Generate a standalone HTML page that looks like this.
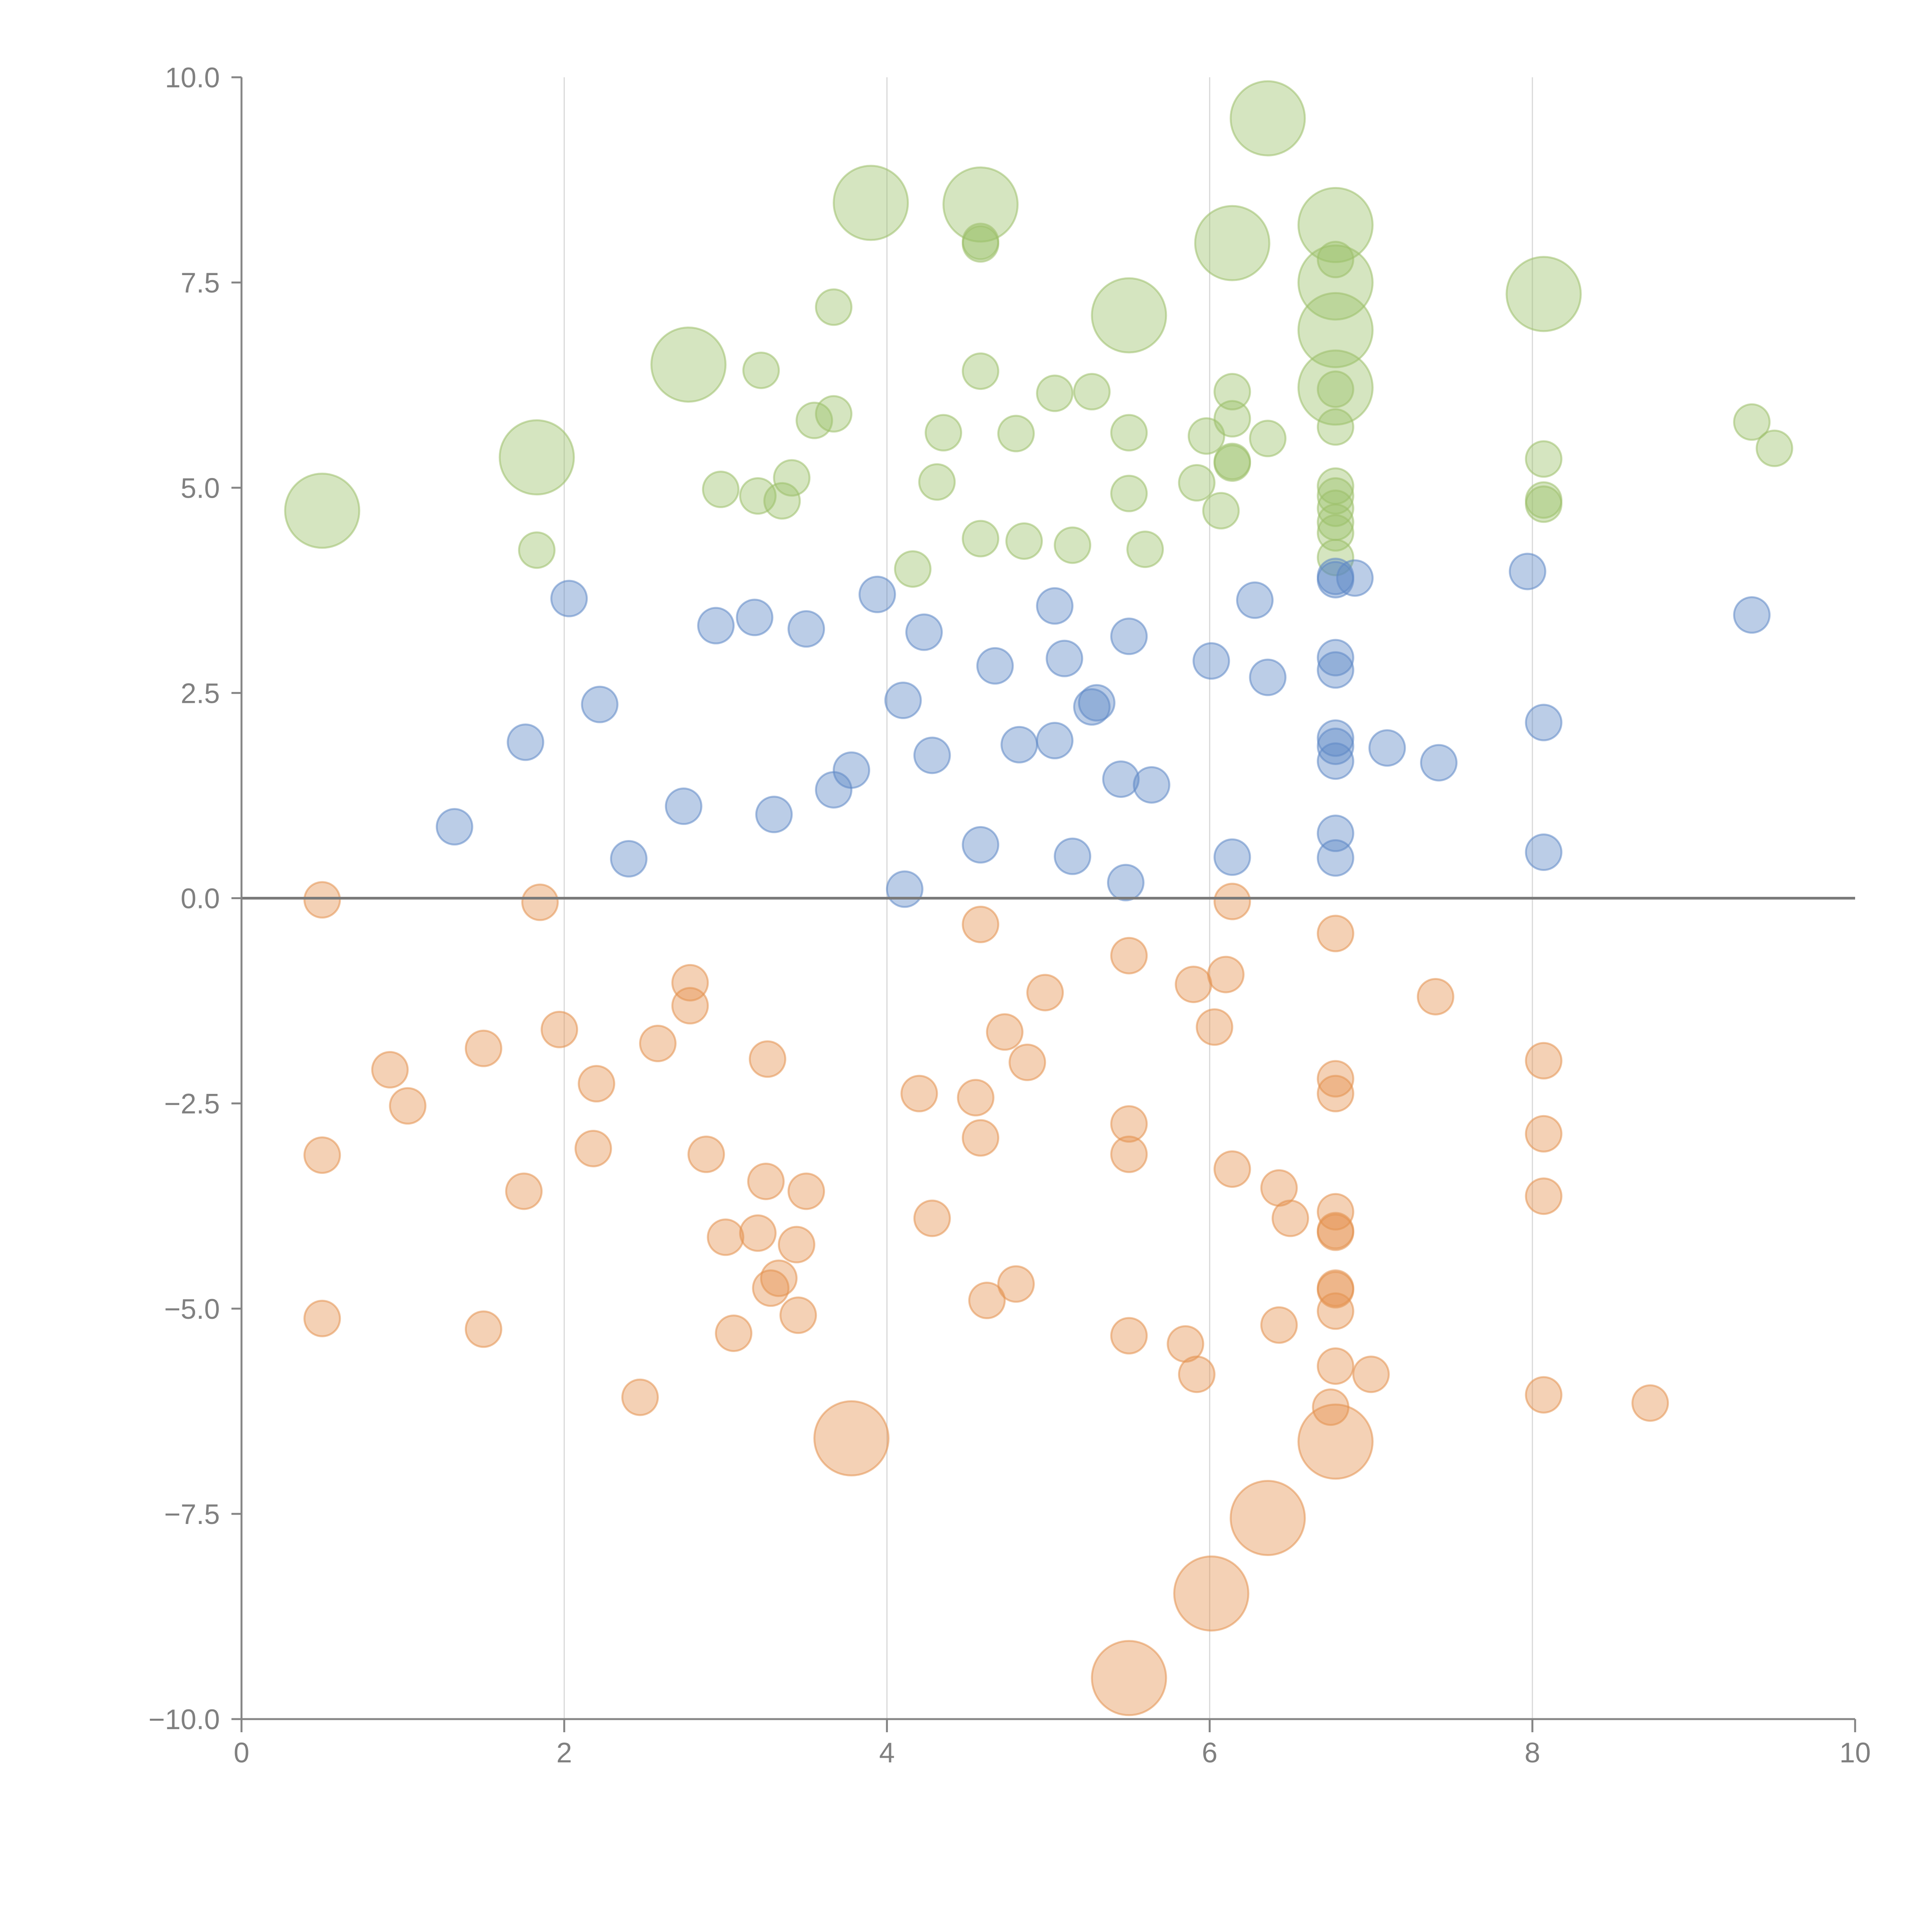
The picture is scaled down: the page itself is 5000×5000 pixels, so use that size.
<!DOCTYPE html>
<html><head><meta charset="utf-8"><style>
html,body{margin:0;padding:0;background:#fff;}
svg{display:block;font-family:"Liberation Sans",Arial,sans-serif;}
</style></head><body>
<svg id="chart" width="5000" height="5000" viewBox="0 0 5000 5000" xmlns="http://www.w3.org/2000/svg">
<g id="grid"></g>
<g id="marks"></g>
<g id="axes"></g>
</svg>
<script>
const xTicks=[0,2,4,6,8,10];
const yTicks=[-10,-7.5,-5,-2.5,0,2.5,5,7.5,10];
const yTickLabels=["\u221210.0","\u22127.5","\u22125.0","\u22122.5","0.0","2.5","5.0","7.5","10.0"];
const greenLargeX=[0.5,1.83,2.77,3.9,4.58,5.5,6.14,6.36,6.78,6.78,6.78,6.78,8.07];
const greenLargeY=[4.72,5.37,6.5,8.47,8.45,7.1,7.98,9.5,8.2,7.5,6.92,6.22,7.36];
const greenX=[1.83,2.97,3.2,3.22,3.35,3.41,3.55,3.67,3.67,4.16,4.31,4.35,4.58,4.58,4.58,4.58,4.8,4.85,5.04,5.15,5.27,5.5,5.5,5.6,5.92,5.98,6.07,6.14,6.14,6.14,6.14,6.36,6.78,6.78,6.78,6.78,6.78,6.78,6.78,6.78,6.78,8.07,8.07,8.07,9.36,9.5];
const greenY=[4.24,4.98,4.9,6.43,4.84,5.12,5.82,5.9,7.2,4.01,5.07,5.67,6.42,8.0,7.97,4.38,5.66,4.35,6.15,4.3,6.17,4.93,5.67,4.25,5.06,5.63,4.72,5.3,5.32,5.84,6.17,5.6,5.74,6.2,7.78,5.02,4.9,4.75,4.58,4.45,4.15,5.35,4.85,4.8,5.8,5.48];
const blueX=[1.32,1.76,2.03,2.22,2.4,2.74,2.94,3.18,3.3,3.5,3.67,3.78,3.94,4.1,4.11,4.23,4.28,4.58,4.67,4.82,5.04,5.04,5.1,5.15,5.27,5.3,5.45,5.48,5.5,5.64,6.01,6.14,6.28,6.36,6.78,6.78,6.9,6.78,6.78,6.78,6.78,6.78,6.78,6.78,7.1,7.42,7.97,8.07,8.07,9.36];
const blueY=[0.87,1.9,3.65,2.36,0.48,1.12,3.32,3.42,1.02,3.28,1.32,1.56,3.7,2.41,0.11,3.24,1.74,0.65,2.83,1.87,1.92,3.56,2.92,0.51,2.33,2.38,1.45,0.19,3.19,1.38,2.89,0.5,3.63,2.69,3.88,3.92,3.9,2.93,2.78,1.95,1.85,1.67,0.79,0.49,1.83,1.65,3.98,2.14,0.56,3.45];
const orangeX=[0.5,0.5,0.5,0.92,1.03,1.5,1.5,1.75,1.85,1.97,2.18,2.2,2.47,2.58,2.78,2.78,2.88,3.0,3.05,3.2,3.25,3.26,3.28,3.33,3.44,3.45,3.5,4.2,4.28,4.55,4.58,4.58,4.62,4.73,4.8,4.87,4.98,5.5,5.5,5.5,5.5,5.85,5.9,5.92,6.03,6.1,6.14,6.14,6.43,6.43,6.5,6.78,6.78,6.78,6.78,6.78,6.78,6.78,6.78,6.78,6.78,6.75,7.0,7.4,8.07,8.07,8.07,8.07,8.73];
const orangeY=[-0.02,-3.13,-5.12,-2.09,-2.53,-1.83,-5.25,-3.57,-0.05,-1.6,-3.05,-2.26,-6.08,-1.77,-1.03,-1.31,-3.12,-4.13,-5.3,-4.08,-3.45,-1.96,-4.75,-4.63,-4.22,-5.08,-3.57,-2.38,-3.9,-2.43,-0.32,-2.92,-4.9,-1.63,-4.7,-2.0,-1.15,-0.7,-2.75,-3.12,-5.33,-5.43,-1.05,-5.8,-1.57,-0.93,-0.04,-3.3,-3.53,-5.2,-3.9,-0.43,-2.2,-2.38,-3.82,-4.05,-4.07,-4.75,-4.77,-5.03,-5.7,-6.2,-5.8,-1.2,-1.98,-2.87,-3.63,-6.05,-6.15];
const orangeLargeX=[3.78,5.5,6.01,6.36,6.78];
const orangeLargeY=[-6.58,-9.5,-8.47,-7.55,-6.62];

const NS="http://www.w3.org/2000/svg";
const X0=625,X1=4801,Y0=4449,Y1=200;
function sx(v){return X0+(v-0)/(10-0)*(X1-X0);}
function sy(v){return Y0-(v+10)/20*(Y0-Y1);}
function mk(tag,attrs,parent){const e=document.createElementNS(NS,tag);for(const k in attrs)e.setAttribute(k,attrs[k]);parent.appendChild(e);return e;}
const grid=document.getElementById('grid'),marks=document.getElementById('marks'),axes=document.getElementById('axes');
xTicks.forEach(t=>{if(t>0&&t<10){const l=mk('line',{x1:sx(t),x2:sx(t),y1:Y1,y2:Y0,stroke:'#d8d8d8','stroke-width':3},grid);

}});
function series(xs,ys,r,color,name){xs.forEach((x,i)=>{const c=mk('circle',{cx:sx(x),cy:sy(ys[i]),r:r,fill:color,'fill-opacity':0.42,stroke:color,'stroke-opacity':0.55,'stroke-width':5},marks);

});}
series(greenLargeX,greenLargeY,96,'#9cc069','bubble-green-large');
series(greenX,greenY,46,'#9cc069','bubble-green');
series(blueX,blueY,46,'#5e89c6','bubble-blue');
series(orangeX,orangeY,46,'#e4914f','bubble-orange');
series(orangeLargeX,orangeLargeY,96,'#e4914f','bubble-orange-large');
const z=mk('line',{x1:X0,x2:X1,y1:sy(0),y2:sy(0),stroke:'#7a7a7a','stroke-width':7},axes);


const ya=mk('line',{x1:X0,x2:X0,y1:Y1,y2:Y0,stroke:'#858585','stroke-width':5},axes);


const xa=mk('line',{x1:X0,x2:X1,y1:Y0,y2:Y0,stroke:'#858585','stroke-width':5},axes);


yTicks.forEach((t,i)=>{const y=sy(t);
const tk=mk('line',{x1:X0-26,x2:X0,y1:y,y2:y,stroke:'#858585','stroke-width':5},axes);


const tx=mk('text',{x:X0-56,y:y+26,'text-anchor':'end','font-size':73,fill:'#808080'},axes);tx.textContent=yTickLabels[i];

});
xTicks.forEach(t=>{const x=sx(t);
const tk=mk('line',{x1:x,x2:x,y1:Y0,y2:Y0+34,stroke:'#858585','stroke-width':5},axes);


const tx=mk('text',{x:x,y:Y0+112,'text-anchor':'middle','font-size':73,fill:'#808080'},axes);tx.textContent=String(t);

});
</script>
</body></html>
